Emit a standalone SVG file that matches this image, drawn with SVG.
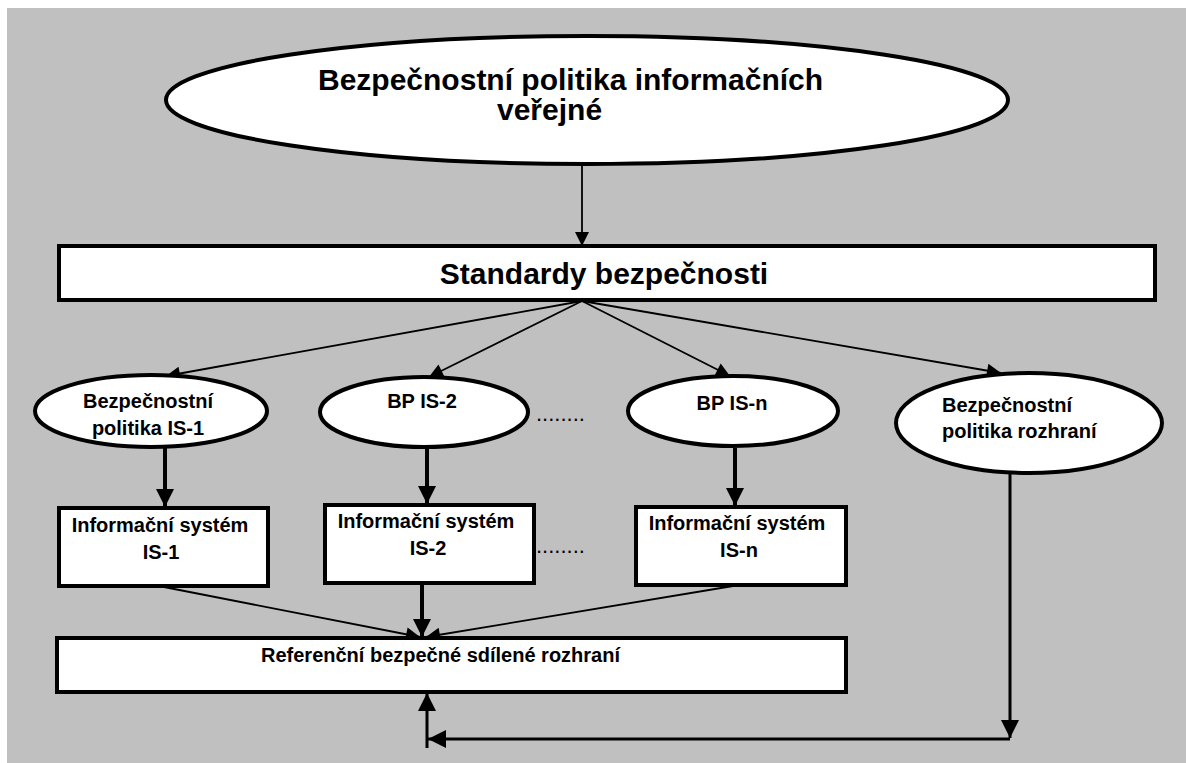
<svg xmlns="http://www.w3.org/2000/svg" width="1186" height="763" viewBox="0 0 1186 763">
  <style>
    .shape { fill: #ffffff; stroke: #000000; stroke-width: 4; }
    .lbl { font-family: "Liberation Sans", Arial, sans-serif; font-weight: bold; fill: #000000; }
    .big { font-size: 30px; }
    .mid { font-size: 20px; }
    .c { text-anchor: middle; }
    .dots { font-family: "Liberation Sans", Arial, sans-serif; font-size: 22px; fill: #000000; }
    .thin { stroke: #000000; stroke-width: 1.8; fill: none; }
    .thick { stroke: #000000; stroke-width: 4; fill: none; }
    .mid-line { stroke: #000000; stroke-width: 3; fill: none; }
  </style>
  <defs>
    <marker id="arrow-thin" viewBox="0 0 10 10" refX="10" refY="5" markerWidth="19" markerHeight="14" markerUnits="userSpaceOnUse" orient="auto">
      <path d="M0,0 L10,5 L0,10 z" fill="#000000"/>
    </marker>
    <marker id="arrow-thick" viewBox="0 0 10 10" refX="10" refY="5" markerWidth="18" markerHeight="18" markerUnits="userSpaceOnUse" orient="auto">
      <path d="M0,0 L10,5 L0,10 z" fill="#000000"/>
    </marker>
  </defs>

  <!-- page background -->
  <rect x="7" y="8" width="1179" height="755" fill="#c0c0c0"/>

  <!-- connectors -->
  <g id="connectors">
    <line class="thin" x1="582" y1="166" x2="582" y2="246" marker-end="url(#arrow-thin)"/>
    <line class="thin" x1="582" y1="301" x2="166" y2="376" marker-end="url(#arrow-thin)"/>
    <line class="thin" x1="582" y1="301" x2="429" y2="377" marker-end="url(#arrow-thin)"/>
    <line class="thin" x1="582" y1="301" x2="730" y2="376" marker-end="url(#arrow-thin)"/>
    <line class="thin" x1="582" y1="301" x2="1001" y2="373" marker-end="url(#arrow-thin)"/>
    <line class="thick" x1="165" y1="448" x2="165" y2="507" marker-end="url(#arrow-thick)"/>
    <line class="thick" x1="427" y1="448" x2="427" y2="504" marker-end="url(#arrow-thick)"/>
    <line class="thick" x1="735" y1="448" x2="735" y2="506" marker-end="url(#arrow-thick)"/>
    <line class="thin" x1="164" y1="587" x2="420" y2="637" marker-end="url(#arrow-thin)"/>
    <line class="thick" x1="422" y1="585" x2="422" y2="637" marker-end="url(#arrow-thick)"/>
    <line class="thin" x1="733" y1="586" x2="426" y2="637" marker-end="url(#arrow-thin)"/>
    <line class="mid-line" x1="1010" y1="474" x2="1010" y2="738" marker-end="url(#arrow-thick)"/>
    <line class="mid-line" x1="1010" y1="739" x2="428" y2="739" marker-end="url(#arrow-thick)"/>
    <line class="mid-line" x1="427" y1="748" x2="427" y2="693" marker-end="url(#arrow-thick)"/>
  </g>

  <g id="policy-top">
    <ellipse class="shape" cx="587" cy="100" rx="421" ry="64"/>
    <text class="lbl big" x="318" y="90">Bezpečnostní politika informačních</text>
    <text class="lbl big" x="497" y="120">veřejné</text>
  </g>

  <g id="standards">
    <rect class="shape" x="59" y="246" width="1096" height="54"/>
    <text class="lbl big c" x="604" y="284">Standardy bezpečnosti</text>
  </g>

  <g id="policy-is1">
    <ellipse class="shape" cx="151" cy="411" rx="116" ry="36"/>
    <text class="lbl mid c" x="148" y="408">Bezpečnostní</text>
    <text class="lbl mid c" x="148" y="435">politika IS-1</text>
  </g>

  <g id="policy-is2">
    <ellipse class="shape" cx="424" cy="412" rx="104" ry="35"/>
    <text class="lbl mid c" x="422" y="408">BP IS-2</text>
  </g>

  <g id="policy-isn">
    <ellipse class="shape" cx="733" cy="411" rx="105" ry="35"/>
    <text class="lbl mid c" x="732" y="410">BP IS-n</text>
  </g>

  <g id="policy-interface">
    <ellipse class="shape" cx="1029" cy="423" rx="133" ry="50"/>
    <text class="lbl mid" x="942" y="412">Bezpečnostní</text>
    <text class="lbl mid" x="942" y="438">politika rozhraní</text>
  </g>

  <g id="ellipsis-policies">
    <text class="dots" x="536" y="421">........</text>
  </g>

  <g id="system-is1">
    <rect class="shape" x="59" y="508" width="209" height="78"/>
    <text class="lbl mid c" x="160" y="532">Informační systém</text>
    <text class="lbl mid c" x="161" y="559">IS-1</text>
  </g>

  <g id="system-is2">
    <rect class="shape" x="325" y="505" width="209" height="78"/>
    <text class="lbl mid c" x="426" y="528">Informační systém</text>
    <text class="lbl mid c" x="428" y="555">IS-2</text>
  </g>

  <g id="ellipsis-systems">
    <text class="dots" x="536" y="553">........</text>
  </g>

  <g id="system-isn">
    <rect class="shape" x="636" y="507" width="210" height="78"/>
    <text class="lbl mid c" x="737" y="530">Informační systém</text>
    <text class="lbl mid c" x="739" y="557">IS-n</text>
  </g>

  <g id="shared-interface">
    <rect class="shape" x="57" y="638" width="789" height="54"/>
    <text class="lbl mid" x="261" y="662">Referenční bezpečné sdílené rozhraní</text>
  </g>
</svg>
